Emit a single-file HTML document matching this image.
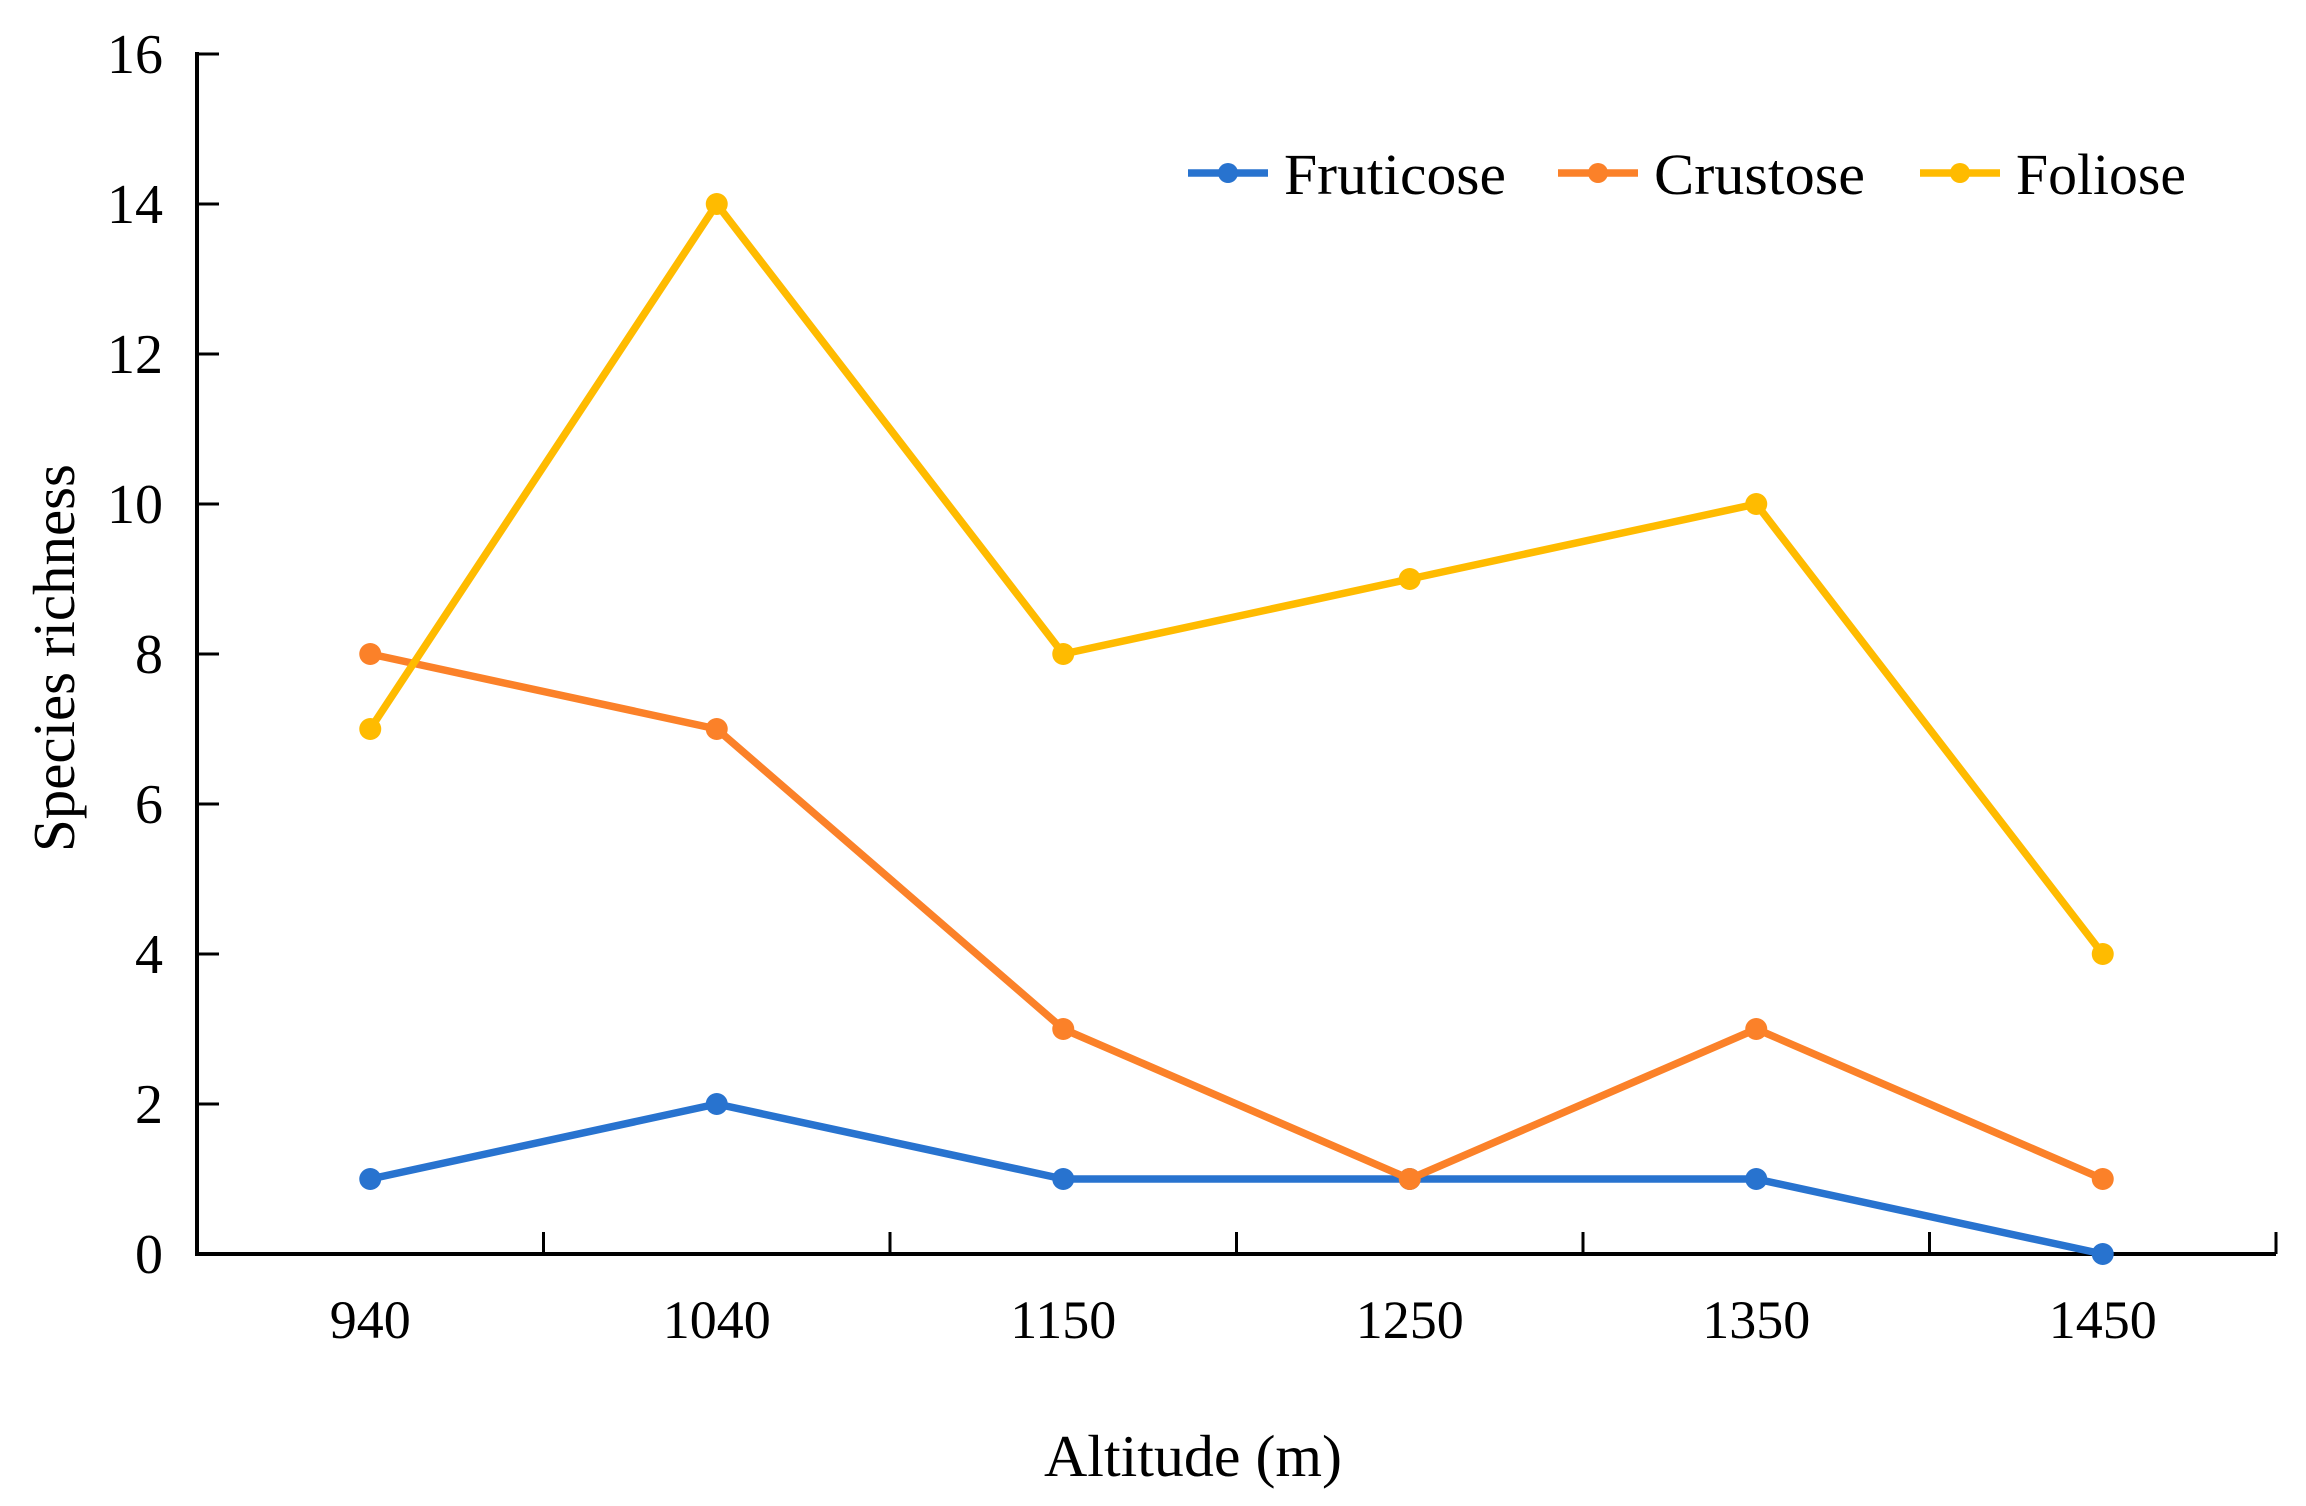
<!DOCTYPE html>
<html><head><meta charset="utf-8"><style>
html,body{margin:0;padding:0;background:#fff;}
svg{display:block;}
text{font-family:"Liberation Serif",serif;fill:#000;}
</style></head><body>
<svg id="chart" width="2306" height="1506" viewBox="0 0 2306 1506" xmlns="http://www.w3.org/2000/svg">
<g id="axes"></g>
<g id="series"></g>
<g id="legend"></g>
<text x="1193" y="1476" font-size="59" text-anchor="middle" textLength="298" lengthAdjust="spacingAndGlyphs">Altitude (m)</text>
<text x="0" y="0" font-size="59" text-anchor="middle" textLength="388" lengthAdjust="spacingAndGlyphs" transform="translate(74,658) rotate(-90)">Species richness</text>
</svg>
<script>
const categories = ["940","1040","1150","1250","1350","1450"];
const fruticose = [1,2,1,1,1,0];
const crustose = [8,7,3,1,3,1];
const foliose = [7,14,8,9,10,4];
const yTicks = [0,2,4,6,8,10,12,14,16];
const seriesNames = ["Fruticose","Crustose","Foliose"];
const seriesColors = ["#2873cf","#fb8129","#ffbb00"];

const NS="http://www.w3.org/2000/svg";
const x0=197,x1=2276,y0=1254,yTop=54,yMax=16;
const band=(x1-x0)/categories.length;
const X=i=>x0+band*(i+0.5);
const Y=v=>y0-(y0-yTop)*v/yMax;
function mk(tag,attrs,parent){const e=document.createElementNS(NS,tag);for(const k in attrs)e.setAttribute(k,attrs[k]);parent.appendChild(e);return e;}
const axes=document.getElementById('axes');
let e=mk('line',{x1:x0,y1:yTop-2,x2:x0,y2:y0+2,stroke:'#000','stroke-width':4},axes);


e=mk('line',{x1:x0-2,y1:y0,x2:x1,y2:y0,stroke:'#000','stroke-width':4},axes);


yTicks.forEach(v=>{
  const t=mk('line',{x1:x0,y1:Y(v),x2:x0+22,y2:Y(v),stroke:'#000','stroke-width':3},axes);
  
  
  const l=mk('text',{x:163,y:Y(v)+19,'font-size':56,'text-anchor':'end'},axes);
  l.textContent=v;
  
  
});
for(let i=1;i<=categories.length;i++){
  const xx=x0+band*i;
  const t=mk('line',{x1:xx,y1:y0,x2:xx,y2:y0-22,stroke:'#000','stroke-width':3},axes);
  
  
}
categories.forEach((c,i)=>{
  const l=mk('text',{x:X(i),y:1338,'font-size':54,'text-anchor':'middle'},axes);
  l.textContent=c;
  
  
});
const sg=document.getElementById('series');
[fruticose,crustose,foliose].forEach((arr,s)=>{
  const pts=arr.map((v,i)=>X(i)+','+Y(v)).join(' ');
  const pl=mk('polyline',{points:pts,fill:'none',stroke:seriesColors[s],'stroke-width':7.5,'stroke-linejoin':'round'},sg);
  
  
  arr.forEach((v,i)=>{
    const c=mk('circle',{cx:X(i),cy:Y(v),r:11,fill:seriesColors[s]},sg);
    
    
  });
});
const lg=document.getElementById('legend');
const lx=[1188,1558,1920];
const tw=[222,211,170];
seriesNames.forEach((n,s)=>{
  const ln=mk('line',{x1:lx[s],y1:173,x2:lx[s]+80,y2:173,stroke:seriesColors[s],'stroke-width':7.5},lg);
  
  
  const c=mk('circle',{cx:lx[s]+40,cy:173,r:10,fill:seriesColors[s]},lg);
  
  
  const t=mk('text',{x:lx[s]+96,y:194,'font-size':58,textLength:tw[s],lengthAdjust:'spacingAndGlyphs'},lg);
  t.textContent=n;
  
  
});
</script>
</body></html>
